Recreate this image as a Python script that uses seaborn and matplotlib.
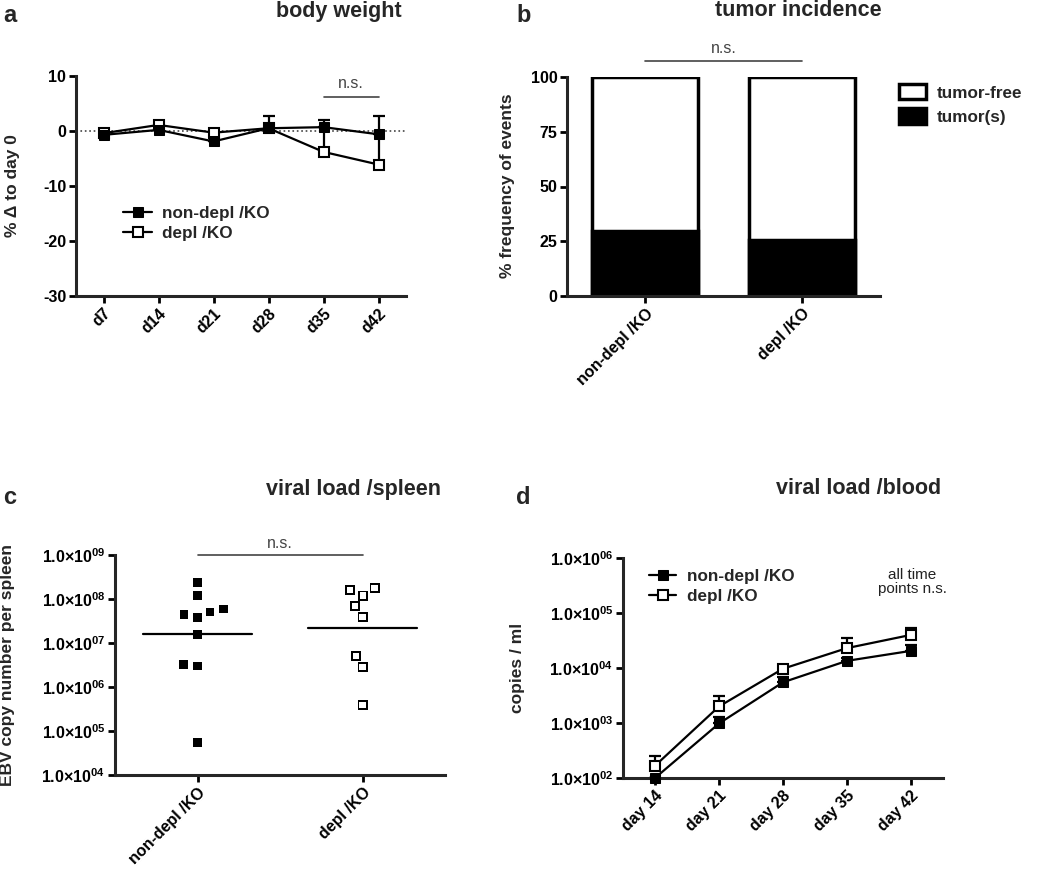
import numpy as np
import pandas as pd
import matplotlib
matplotlib.use("Agg")
import matplotlib.pyplot as plt
from matplotlib.patches import Patch
from matplotlib.path import Path
from matplotlib.ticker import FuncFormatter, FixedLocator
import seaborn as sns

# === Data ===
# a: body weight (% change to day 0)
bw_days = ["d7", "d14", "d21", "d28", "d35", "d42"]
bw_nondepl = [-0.7, 0.2, -1.9, 0.5, 0.7, -0.6]
bw_nondepl_err = [0.0, 0.0, 0.0, 2.3, 1.3, 3.3]
bw_depl = [-0.4, 1.1, -0.3, 0.5, -3.8, -6.1]
bw_depl_err = [0.0, 0.0, 0.0, 0.0, 4.5, 5.5]

# b: tumor incidence
groups = ["non-depl /KO", "depl /KO"]
tumor_pct = [29.5, 25.5]
total_pct = [100, 100]

# c: viral load per spleen
spleen_nondepl = [2.4e8, 1.2e8, 5.9e7, 4.5e7, 3.8e7, 5.1e7, 1.55e7, 3.2e6, 3.0e6, 5.4e4]
spleen_depl = [1.6e8, 1.2e8, 1.75e8, 6.9e7, 3.9e7, 5.1e6, 2.8e6, 3.9e5]

# d: viral load in blood
bl_days = ["day 14", "day 21", "day 28", "day 35", "day 42"]
bl_nondepl = [100, 980, 5500, 13500, 20500]
bl_nondepl_err = [0, 320, 1400, 1500, 5300]
bl_depl = [167, 2000, 9700, 23000, 40000]
bl_depl_err = [86, 1100, 1200, 12500, 12500]

# === Style ===
sns.set_style("ticks")
plt.rcParams["font.family"] = ["Liberation Sans", "DejaVu Sans"]
plt.rcParams["font.weight"] = "bold"
plt.rcParams["axes.unicode_minus"] = False
plt.rcParams["mathtext.fontset"] = "custom"
plt.rcParams["mathtext.rm"] = "Liberation Sans"
plt.rcParams["mathtext.bf"] = "Liberation Sans:bold"
plt.rcParams["axes.linewidth"] = 2.2
plt.rcParams["xtick.major.width"] = 2.0
plt.rcParams["ytick.major.width"] = 2.0
plt.rcParams["xtick.major.size"] = 5
plt.rcParams["ytick.major.size"] = 5
plt.rcParams["xtick.labelsize"] = 11.5
plt.rcParams["ytick.labelsize"] = 11.5

W, H = 1050, 886
fig = plt.figure(figsize=(W / 100, H / 100), dpi=100)


def add_axes(left, top, right, bottom):
    return fig.add_axes([left / W, 1 - bottom / H, (right - left) / W, (bottom - top) / H])


def style_ax(ax):
    sns.despine(ax=ax)
    ax.tick_params(colors="black", pad=2)
    for lab in ax.get_xticklabels() + ax.get_yticklabels():
        lab.set_fontweight("bold")


LW = 1.6
GRAY = "#444444"
TITLE_FS = 15.5
LABEL_FS = 12.5
LEG_FS = 12.3

# hollow square marker (outer square with a square hole)
outer = [(-0.5, -0.5), (0.5, -0.5), (0.5, 0.5), (-0.5, 0.5), (-0.5, -0.5)]
inner = [(-0.31, -0.31), (-0.31, 0.31), (0.31, 0.31), (0.31, -0.31), (-0.31, -0.31)]
hollow_sq = Path(outer + inner,
                 [Path.MOVETO] + [Path.LINETO] * 3 + [Path.CLOSEPOLY]
                 + [Path.MOVETO] + [Path.LINETO] * 3 + [Path.CLOSEPOLY])

# --- a: body weight ---
ax = add_axes(76, 76, 406, 296)
xa = np.arange(len(bw_days))
dfa = pd.DataFrame({"x": np.concatenate([xa, xa]),
                    "y": bw_nondepl + bw_depl,
                    "grp": ["non-depl /KO"] * len(xa) + ["depl /KO"] * len(xa)})
ax.axhline(0, ls=":", color=GRAY, lw=1.2, zorder=0)
ax.errorbar(xa, bw_depl, yerr=[np.zeros(len(xa)), bw_depl_err], fmt="none",
            ecolor="black", elinewidth=LW, capsize=0, zorder=1.5)
ax.errorbar(xa, bw_nondepl, yerr=[np.zeros(len(xa)), bw_nondepl_err], fmt="none",
            ecolor="black", elinewidth=LW, capsize=4, capthick=LW, zorder=1.5)
sns.lineplot(data=dfa[dfa.grp == "depl /KO"], x="x", y="y", ax=ax, color="black",
             lw=LW, marker="s", ms=7.5, mfc="white", mec="black", mew=1.5,
             label="depl /KO", zorder=3)
sns.lineplot(data=dfa[dfa.grp == "non-depl /KO"], x="x", y="y", ax=ax, color="black",
             lw=LW, marker="s", ms=7.5, mfc="black", mec="black",
             label="non-depl /KO", zorder=4)
ax.set_xlim(-0.5, len(bw_days) - 0.5)
ax.set_ylim(-30, 10)
ax.set_yticks([-30, -20, -10, 0, 10])
ax.set_xticks(xa)
ax.set_xticklabels(bw_days, rotation=45, ha="right", rotation_mode="anchor")
ax.set_xlabel("")
ax.set_ylabel("% Δ to day 0", fontsize=LABEL_FS, fontweight="bold")
ax.yaxis.set_label_coords(20 / W, 1 - 186 / H, transform=fig.transFigure)
h, l = ax.get_legend_handles_labels()
ax.legend(h[::-1], l[::-1], frameon=False, loc="center left",
          bbox_to_anchor=(123 / W, 1 - 223.5 / H), bbox_transform=fig.transFigure,
          borderpad=0, borderaxespad=0, handlelength=1.7, handletextpad=0.6,
          labelspacing=0.3, prop={"weight": "bold", "size": LEG_FS})
ax.plot([4, 5], [6.2, 6.2], color=GRAY, lw=1.2, clip_on=False)
ax.text(4.5, 7.2, "n.s.", ha="center", va="bottom", fontsize=11.5,
        fontweight="normal", color=GRAY)
style_ax(ax)

# --- b: tumor incidence ---
ax = add_axes(567, 77, 880, 296)
dfb = pd.DataFrame({"group": groups, "total": total_pct, "tumor": tumor_pct})
sns.barplot(data=dfb, x="group", y="total", order=groups, color="white",
            edgecolor="black", linewidth=2.5, width=0.68, ax=ax)
sns.barplot(data=dfb, x="group", y="tumor", order=groups, color="black",
            edgecolor="black", linewidth=2.5, width=0.68, ax=ax)
ax.set_xlim(-0.5, 1.5)
ax.set_ylim(0, 100)
ax.set_yticks([0, 25, 50, 75, 100])
ax.set_xticks(range(len(groups)))
ax.set_xticklabels(groups, rotation=45, ha="right", rotation_mode="anchor")
ax.set_xlabel("")
ax.set_ylabel("% frequency of events", fontsize=LABEL_FS, fontweight="bold")
ax.yaxis.set_label_coords(515 / W, 1 - 186 / H, transform=fig.transFigure)
handles = [Patch(facecolor="white", edgecolor="black", lw=2.5, label="tumor-free"),
           Patch(facecolor="black", edgecolor="black", lw=2.5, label="tumor(s)")]
ax.legend(handles=handles, frameon=False, loc="center left",
          bbox_to_anchor=(899 / W, 1 - 104.5 / H), bbox_transform=fig.transFigure,
          borderpad=0, borderaxespad=0, handlelength=1.6, handleheight=1.0,
          handletextpad=0.6, labelspacing=0.45, prop={"weight": "bold", "size": LEG_FS})
ax.plot([0, 1], [107.3, 107.3], color=GRAY, lw=1.2, clip_on=False)
ax.text(0.5, 109.5, "n.s.", ha="center", va="bottom", fontsize=11.5,
        fontweight="normal", color=GRAY)
style_ax(ax)

# --- c: viral load /spleen ---
ax = add_axes(115, 555, 445, 775)
ax.set_yscale("log")
ax.set_ylim(1e4, 1e9)
ax.set_xlim(-0.5, 1.5)
dfc = pd.DataFrame({"group": [groups[0]] * len(spleen_nondepl) + [groups[1]] * len(spleen_depl),
                    "copies": spleen_nondepl + spleen_depl})
# invisible edge widens the swarm spacing without enlarging the squares
sns.swarmplot(data=dfc[dfc.group == groups[0]], x="group", y="copies", order=groups,
              marker="s", color="black", size=6.2, edgecolor="none", linewidth=3.3, ax=ax)
sns.swarmplot(data=dfc[dfc.group == groups[1]], x="group", y="copies", order=groups,
              marker=hollow_sq, color="black", size=7.2, edgecolor="none", linewidth=2.3, ax=ax)
for i, g in enumerate(groups):
    gm = 10 ** np.mean(np.log10(dfc.loc[dfc.group == g, "copies"]))
    ax.plot([i - 0.33, i + 0.33], [gm, gm], color="black", lw=1.6, zorder=5)
ax.set_xlim(-0.5, 1.5)
ax.set_ylim(1e4, 1e9)
ax.yaxis.set_major_locator(FixedLocator([1e4, 1e5, 1e6, 1e7, 1e8, 1e9]))
ax.yaxis.set_minor_locator(FixedLocator([]))
ax.yaxis.set_major_formatter(FuncFormatter(
    lambda v, p: r"$\mathbf{1.0{\times}10^{%02d}}$" % round(np.log10(v))))
ax.set_xticks(range(len(groups)))
ax.set_xticklabels(groups, rotation=45, ha="right", rotation_mode="anchor")
ax.set_xlabel("")
ax.set_ylabel("EBV copy number per spleen", fontsize=LABEL_FS, fontweight="bold")
ax.yaxis.set_label_coords(15 / W, 1 - 665 / H, transform=fig.transFigure)
ax.plot([0, 1], [1e9, 1e9], color=GRAY, lw=1.2, clip_on=False)
ax.text(0.5, 1.25e9, "n.s.", ha="center", va="bottom", fontsize=11.5,
        fontweight="normal", color=GRAY)
style_ax(ax)

# --- d: viral load /blood ---
ax = add_axes(623, 558, 943, 778)
ax.set_yscale("log")
xd = np.arange(len(bl_days))
dfd = pd.DataFrame({"x": np.concatenate([xd, xd]),
                    "y": bl_nondepl + bl_depl,
                    "grp": [groups[0]] * len(xd) + [groups[1]] * len(xd)})
ax.errorbar(xd, bl_depl, yerr=[np.zeros(len(xd)), bl_depl_err], fmt="none",
            ecolor="black", elinewidth=LW, capsize=4, capthick=LW, zorder=1.5)
ax.errorbar(xd, bl_nondepl, yerr=[np.zeros(len(xd)), bl_nondepl_err], fmt="none",
            ecolor="black", elinewidth=LW, capsize=4, capthick=LW, zorder=1.5)
sns.lineplot(data=dfd[dfd.grp == groups[1]], x="x", y="y", ax=ax, color="black",
             lw=LW, marker="s", ms=6.5, mfc="white", mec="black", mew=1.5,
             label="depl /KO", zorder=3, clip_on=False)
sns.lineplot(data=dfd[dfd.grp == groups[0]], x="x", y="y", ax=ax, color="black",
             lw=LW, marker="s", ms=6.5, mfc="black", mec="black",
             label="non-depl /KO", zorder=4, clip_on=False)
ax.set_xlim(-0.5, len(bl_days) - 0.5)
ax.set_ylim(1e2, 1e6)
ax.yaxis.set_major_locator(FixedLocator([1e2, 1e3, 1e4, 1e5, 1e6]))
ax.yaxis.set_minor_locator(FixedLocator([]))
ax.yaxis.set_major_formatter(FuncFormatter(
    lambda v, p: r"$\mathbf{1.0{\times}10^{%02d}}$" % round(np.log10(v))))
ax.set_xticks(xd)
ax.set_xticklabels(bl_days, rotation=45, ha="right", rotation_mode="anchor")
ax.set_xlabel("")
ax.set_ylabel("copies / ml", fontsize=LABEL_FS, fontweight="bold")
ax.yaxis.set_label_coords(525 / W, 1 - 668 / H, transform=fig.transFigure)
h, l = ax.get_legend_handles_labels()
ax.legend(h[::-1], l[::-1], frameon=False, loc="center left",
          bbox_to_anchor=(649 / W, 1 - 586.5 / H), bbox_transform=fig.transFigure,
          borderpad=0, borderaxespad=0, handlelength=1.6, handletextpad=0.6,
          labelspacing=0.3, prop={"weight": "bold", "size": LEG_FS})
fig.text(912 / W, 1 - 582 / H, "all time\npoints n.s.", ha="center", va="center",
         fontsize=11, fontweight="normal", color="#222222", linespacing=1.05)
style_ax(ax)

# --- panel letters and titles ---
for letter, x, y in [("a", 3, 16), ("b", 516, 16), ("c", 3, 498), ("d", 516, 497)]:
    fig.text(x / W, 1 - y / H, letter, fontsize=17, fontweight="bold", va="center")
for title, x, y in [("body weight", 339, 11), ("tumor incidence", 798, 11),
                    ("viral load /spleen", 354, 489), ("viral load /blood", 859, 488)]:
    fig.text(x / W, 1 - y / H, title, fontsize=TITLE_FS, fontweight="bold",
             ha="center", va="center")

fig.savefig("out.png", dpi=100, facecolor="white")
